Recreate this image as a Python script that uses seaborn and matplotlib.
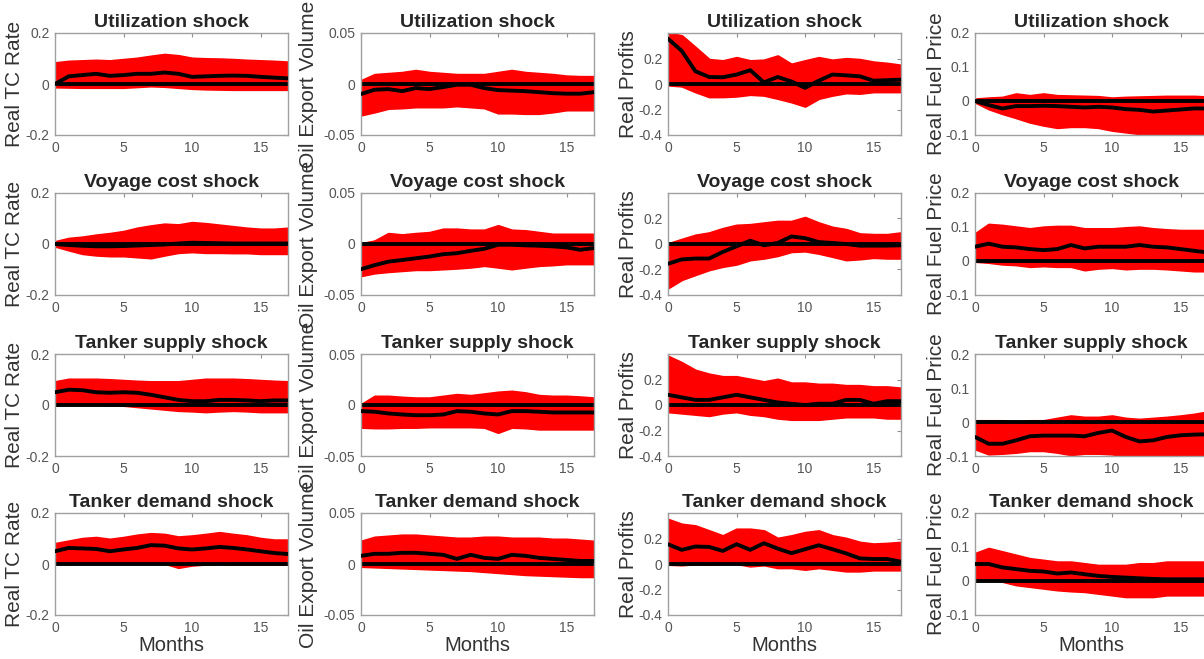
import numpy as np
import pandas as pd
import seaborn as sns
import matplotlib.pyplot as plt

months = list(range(18))
shocks = ["Utilization shock", "Voyage cost shock", "Tanker supply shock", "Tanker demand shock"]
variables = ["Real TC Rate", "Oil Export Volume", "Real Profits", "Real Fuel Price"]
ylims = [(-0.2, 0.2), (-0.05, 0.05), (-0.4, 0.4), (-0.1, 0.2)]
yticks = [[-0.2, 0, 0.2], [-0.05, 0, 0.05], [-0.4, -0.2, 0, 0.2], [-0.1, 0, 0.1, 0.2]]
ytick_labels = [["-0.2", "0", "0.2"], ["-0.05", "0", "0.05"], ["-0.4", "-0.2", "0", "0.2"],
                ["-0.1", "0", "0.1", "0.2"]]

# median responses, [shock][variable]
median = [
    [[0.0, 0.03, 0.035, 0.04, 0.032, 0.035, 0.04, 0.04, 0.045, 0.04, 0.028, 0.03, 0.032, 0.033, 0.032, 0.028, 0.025, 0.022],
     [-0.0098, -0.0056, -0.005, -0.007, -0.004, -0.005, -0.003, -0.0007, -0.0007, -0.004, -0.006, -0.0065, -0.007, -0.008, -0.009, -0.0095, -0.0095, -0.008],
     [0.355, 0.26, 0.1, 0.055, 0.053, 0.074, 0.108, 0.013, 0.055, 0.02, -0.03, 0.026, 0.074, 0.068, 0.06, 0.026, 0.03, 0.034],
     [0.0, -0.012, -0.022, -0.015, -0.015, -0.014, -0.015, -0.017, -0.019, -0.017, -0.019, -0.024, -0.026, -0.031, -0.028, -0.025, -0.022, -0.022]],
    [[0.0, -0.004, -0.007, -0.009, -0.009, -0.008, -0.006, -0.004, -0.002, 0.002, 0.005, 0.004, 0.003, 0.002, 0.002, 0.002, 0.002, 0.002],
     [-0.0247, -0.0207, -0.0173, -0.0157, -0.014, -0.0123, -0.01, -0.009, -0.0067, -0.0047, -0.0007, -0.0007, -0.0013, -0.0017, -0.0023, -0.0033, -0.0057, -0.004],
     [-0.155, -0.121, -0.114, -0.114, -0.062, -0.018, 0.026, -0.01, 0.008, 0.059, 0.046, 0.015, 0.008, 0.0, -0.013, -0.013, -0.013, -0.01],
     [0.042, 0.051, 0.042, 0.04, 0.035, 0.032, 0.035, 0.047, 0.037, 0.042, 0.042, 0.042, 0.047, 0.042, 0.04, 0.035, 0.03, 0.025]],
    [[0.05, 0.06, 0.058, 0.05, 0.048, 0.05, 0.048, 0.04, 0.03, 0.02, 0.015, 0.015, 0.02, 0.02, 0.018, 0.015, 0.018, 0.018],
     [-0.006, -0.0066, -0.0083, -0.0093, -0.01, -0.01, -0.0093, -0.006, -0.0066, -0.0083, -0.0093, -0.006, -0.006, -0.0066, -0.0073, -0.0073, -0.0073, -0.0073],
     [0.08, 0.06, 0.04, 0.04, 0.06, 0.08, 0.06, 0.04, 0.02, 0.01, 0.0, 0.01, 0.01, 0.04, 0.04, 0.01, 0.03, 0.03],
     [-0.044, -0.064, -0.064, -0.054, -0.042, -0.04, -0.04, -0.04, -0.042, -0.032, -0.025, -0.044, -0.057, -0.054, -0.044, -0.039, -0.037, -0.036]],
    [[0.05, 0.063, 0.061, 0.059, 0.05, 0.057, 0.063, 0.074, 0.072, 0.061, 0.057, 0.061, 0.067, 0.063, 0.057, 0.05, 0.043, 0.039],
     [0.008, 0.01, 0.01, 0.011, 0.011, 0.01, 0.009, 0.005, 0.009, 0.006, 0.005, 0.009, 0.008, 0.006, 0.005, 0.004, 0.003, 0.003],
     [0.155, 0.111, 0.137, 0.134, 0.103, 0.155, 0.111, 0.163, 0.121, 0.085, 0.116, 0.147, 0.116, 0.083, 0.044, 0.039, 0.039, 0.018],
     [0.05, 0.05, 0.04, 0.035, 0.03, 0.028, 0.022, 0.025, 0.02, 0.015, 0.012, 0.01, 0.008, 0.006, 0.005, 0.005, 0.005, 0.005]],
]

# upper edge of the red draws
upper = [
    [[0.082, 0.088, 0.09, 0.092, 0.09, 0.095, 0.1, 0.108, 0.115, 0.11, 0.1, 0.098, 0.097, 0.095, 0.092, 0.09, 0.088, 0.085],
     [0.003, 0.009, 0.01, 0.011, 0.013, 0.011, 0.01, 0.009, 0.009, 0.009, 0.011, 0.013, 0.011, 0.01, 0.009, 0.0075, 0.007, 0.007],
     [0.4, 0.376, 0.284, 0.19, 0.18, 0.205, 0.18, 0.185, 0.218, 0.153, 0.18, 0.205, 0.185, 0.197, 0.19, 0.17, 0.16, 0.145],
     [0.005, 0.008, 0.01, 0.02, 0.015, 0.02, 0.015, 0.014, 0.013, 0.012, 0.008, 0.01, 0.011, 0.012, 0.013, 0.013, 0.013, 0.011]],
    [[0.008, 0.021, 0.026, 0.034, 0.04, 0.048, 0.061, 0.07, 0.077, 0.074, 0.083, 0.079, 0.073, 0.067, 0.061, 0.057, 0.057, 0.061],
     [0.0, 0.0027, 0.01, 0.0087, 0.01, 0.011, 0.0143, 0.0143, 0.0133, 0.0133, 0.0177, 0.0133, 0.0127, 0.011, 0.0093, 0.0093, 0.0093, 0.0093],
     [0.0, 0.034, 0.067, 0.085, 0.119, 0.145, 0.15, 0.163, 0.175, 0.175, 0.206, 0.163, 0.129, 0.111, 0.077, 0.072, 0.072, 0.085],
     [0.079, 0.107, 0.104, 0.099, 0.094, 0.099, 0.101, 0.101, 0.094, 0.094, 0.094, 0.097, 0.099, 0.094, 0.091, 0.089, 0.089, 0.089]],
    [[0.09, 0.1, 0.1, 0.1, 0.098, 0.095, 0.092, 0.09, 0.09, 0.09, 0.095, 0.1, 0.1, 0.1, 0.098, 0.095, 0.092, 0.09],
     [0.0, 0.0083, 0.0083, 0.0073, 0.0066, 0.0066, 0.0083, 0.01, 0.009, 0.0106, 0.0123, 0.0132, 0.0116, 0.009, 0.0083, 0.0083, 0.0076, 0.0066],
     [0.38, 0.33, 0.27, 0.24, 0.22, 0.22, 0.2, 0.18, 0.2, 0.17, 0.17, 0.16, 0.16, 0.15, 0.15, 0.14, 0.14, 0.13],
     [0.003, 0.003, 0.003, 0.0, 0.003, 0.003, 0.01, 0.017, 0.013, 0.013, 0.017, 0.01, 0.007, 0.01, 0.013, 0.017, 0.022, 0.029]],
    [[0.079, 0.089, 0.099, 0.103, 0.096, 0.103, 0.112, 0.118, 0.115, 0.105, 0.109, 0.115, 0.122, 0.115, 0.109, 0.099, 0.093, 0.093],
     [0.022, 0.026, 0.027, 0.028, 0.028, 0.027, 0.026, 0.025, 0.025, 0.026, 0.026, 0.025, 0.025, 0.025, 0.024, 0.024, 0.023, 0.022],
     [0.348, 0.31, 0.297, 0.258, 0.219, 0.271, 0.271, 0.258, 0.199, 0.219, 0.245, 0.258, 0.219, 0.199, 0.168, 0.155, 0.16, 0.168],
     [0.08, 0.095, 0.085, 0.075, 0.065, 0.06, 0.055, 0.055, 0.05, 0.045, 0.045, 0.045, 0.05, 0.05, 0.055, 0.055, 0.055, 0.055]],
]

# lower edge of the red draws
lower = [
    [[-0.01, -0.011, -0.012, -0.012, -0.012, -0.012, -0.009, -0.006, -0.008, -0.012, -0.016, -0.018, -0.019, -0.02, -0.02, -0.02, -0.02, -0.02],
     [-0.03, -0.027, -0.0235, -0.023, -0.022, -0.022, -0.022, -0.021, -0.022, -0.023, -0.028, -0.028, -0.0285, -0.0285, -0.027, -0.025, -0.025, -0.025],
     [-0.005, -0.013, -0.058, -0.097, -0.097, -0.092, -0.079, -0.085, -0.11, -0.137, -0.171, -0.11, -0.085, -0.066, -0.07, -0.058, -0.058, -0.058],
     [-0.002, -0.022, -0.036, -0.048, -0.061, -0.07, -0.077, -0.074, -0.074, -0.077, -0.085, -0.09, -0.095, -0.1, -0.1, -0.103, -0.1, -0.095]],
    [[-0.007, -0.022, -0.036, -0.042, -0.045, -0.045, -0.049, -0.053, -0.042, -0.032, -0.029, -0.032, -0.032, -0.033, -0.033, -0.036, -0.036, -0.036],
     [-0.0307, -0.028, -0.0267, -0.0257, -0.0247, -0.0247, -0.024, -0.0233, -0.0223, -0.0207, -0.0223, -0.024, -0.0223, -0.0207, -0.02, -0.019, -0.019, -0.019],
     [-0.341, -0.276, -0.237, -0.199, -0.173, -0.155, -0.121, -0.108, -0.088, -0.057, -0.052, -0.07, -0.095, -0.121, -0.114, -0.103, -0.108, -0.108],
     [0.0, -0.003, -0.008, -0.01, -0.015, -0.013, -0.015, -0.015, -0.025, -0.02, -0.018, -0.022, -0.02, -0.02, -0.022, -0.025, -0.028, -0.028]],
    [[0.0, 0.01, 0.008, 0.005, 0.002, 0.0, -0.005, -0.01, -0.015, -0.02, -0.022, -0.025, -0.022, -0.02, -0.022, -0.025, -0.025, -0.025],
     [-0.0215, -0.022, -0.022, -0.0215, -0.0215, -0.021, -0.021, -0.021, -0.021, -0.0215, -0.0265, -0.0215, -0.022, -0.0232, -0.0232, -0.0232, -0.0232, -0.0232],
     [-0.05, -0.06, -0.07, -0.08, -0.06, -0.05, -0.07, -0.08, -0.1, -0.11, -0.11, -0.11, -0.1, -0.09, -0.09, -0.09, -0.1, -0.1],
     [-0.078, -0.093, -0.091, -0.088, -0.083, -0.083, -0.088, -0.095, -0.091, -0.091, -0.093, -0.1, -0.1, -0.1, -0.098, -0.095, -0.095, -0.095]],
    [[0.011, 0.014, 0.011, 0.011, 0.007, 0.007, 0.007, 0.007, 0.004, -0.012, -0.003, 0.001, 0.004, 0.001, 0.001, 0.001, 0.001, 0.001],
     [-0.002, -0.0025, -0.003, -0.0035, -0.004, -0.0045, -0.005, -0.0055, -0.006, -0.007, -0.008, -0.009, -0.01, -0.0105, -0.011, -0.0115, -0.012, -0.012],
     [0.0, -0.004, 0.004, 0.0, 0.006, 0.006, -0.013, -0.004, -0.026, -0.026, -0.039, -0.026, -0.039, -0.052, -0.052, -0.044, -0.044, -0.044],
     [0.0, 0.01, 0.0, -0.01, -0.015, -0.02, -0.025, -0.028, -0.03, -0.035, -0.04, -0.045, -0.045, -0.045, -0.04, -0.04, -0.04, -0.04]],
]

sns.set_theme(style="white")
plt.rcParams['font.family'] = ['Liberation Sans', 'DejaVu Sans']

fig = plt.figure(figsize=(12.04, 6.59), dpi=100)
W, H = 1204, 659
col_left = [55, 361, 668, 975]
row_top = [33, 193, 354, 513]
aw, ah = 233, 102
label_x = [-31, -43, -30, -29]  # right edge of y label, px from the axes

for i, shock in enumerate(shocks):
    for j, var in enumerate(variables):
        ax = fig.add_axes([col_left[j] / W, 1 - (row_top[i] + ah) / H, aw / W, ah / H])
        ax.fill_between(months, lower[i][j], upper[i][j], color="red",
                        edgecolor="red", linewidth=2.2, zorder=1)
        df = pd.DataFrame({"month": months, "median": median[i][j], "zero": [0] * len(months)})
        sns.lineplot(data=df, x="month", y="zero", color="black", linewidth=2.8, ax=ax, zorder=2)
        sns.lineplot(data=df, x="month", y="median", color="black", linewidth=2.8, ax=ax, zorder=3)
        ax.set_xlim(0, 17)
        ax.set_ylim(*ylims[j])
        ax.set_xticks([0, 5, 10, 15])
        ax.set_yticks(yticks[j])
        ax.set_yticklabels(ytick_labels[j])
        ax.tick_params(direction="in", length=3, width=0.8, top=True, right=True,
                       labelsize=10, colors="#909090", labelcolor="#555555", pad=4)
        for sp in ax.spines.values():
            sp.set_color("#a0a0a0")
            sp.set_linewidth(1.0)
        ax.set_title(shock, fontsize=14, fontweight="bold", pad=4)
        ax.set_ylabel(var, fontsize=15, color="#333333")
        ax.yaxis.set_label_coords(label_x[j] / aw, 0.5)
        if i == 3:
            ax.set_xlabel("Months", fontsize=14.5, color="#333333", labelpad=1)
        else:
            ax.set_xlabel("")

fig.savefig("out.png", dpi=100)
